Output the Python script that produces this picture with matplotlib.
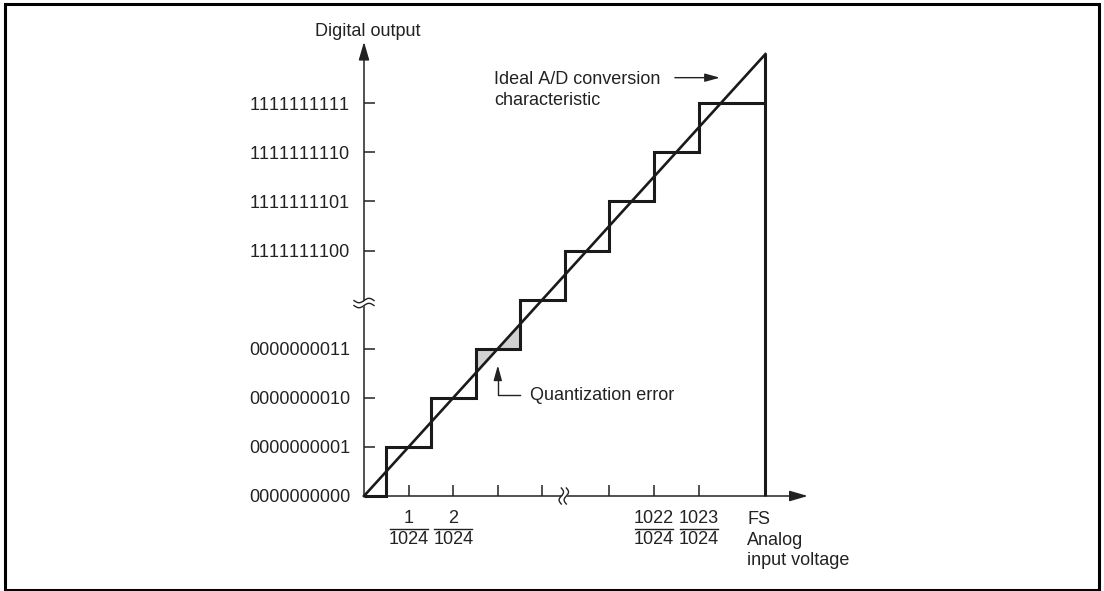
import matplotlib.pyplot as plt
from matplotlib.patches import Rectangle
import numpy as np

plt.rcParams['font.family'] = ['Liberation Sans', 'DejaVu Sans']
plt.rcParams['text.kerning_factor'] = 8  # Helvetica-like spacing of "11"

# staircase of the 10-bit converter (axis is broken, only the ends are drawn)
step_edges = [0, 0.5, 1.5, 2.5, 3.5, 4.5, 5.5, 6.5, 7.5, 9]
step_levels = [0, 1, 2, 3, 4, 5, 6, 7, 8]
full_scale = 9

y_ticks = [1, 2, 3, 5, 6, 7, 8]
y_labels = ['0000000001', '0000000010', '0000000011',
            '1111111100', '1111111101', '1111111110', '1111111111']
y_zero_label = '0000000000'

x_ticks = [1, 2, 3, 4, 5.5, 6.5, 7.5]
frac_pos = [1, 2, 6.5, 7.5]
frac_num = ['1', '2', '1022', '1023']
frac_den = ['1024', '1024', '1024', '1024']

# shaded quantization error around the 0000000011 step
err_x = [2.5, 3.0, 3.5]
err_level = 3

W, H = 1104, 591
fig = plt.figure(figsize=(W / 100, H / 100), dpi=100)
ax = fig.add_axes([0, 0, 1, 1])
ox, oy, ux, uy = 364, 496, 44.6, 49.1
ax.set_xlim(-ox / ux, (W - ox) / ux)
ax.set_ylim(-(H - oy) / uy, oy / uy)
px = 1 / ux  # one pixel in data units
py = 1 / uy

fs = 13
lw_thick = 2.2

# outer frame
fig.patches.append(Rectangle((5 / W, 1 - 590 / H), 1094 / W, 586 / H,
                             transform=fig.transFigure, fill=False,
                             lw=2.2, ec='black'))

for s in ['top', 'right']:
    ax.spines[s].set_visible(False)
for s in ['left', 'bottom']:
    ax.spines[s].set_position(('data', 0))
    ax.spines[s].set_visible(False)

ax.set_yticks([0] + y_ticks, [y_zero_label] + y_labels)
ax.set_xticks(x_ticks)
ax.tick_params(axis='y', direction='in', length=8, width=1.1, pad=10,
               labelsize=fs, colors='#222222')
ax.tick_params(axis='x', direction='in', length=8, width=1.1,
               labelbottom=False, colors='#222222')
ax.yaxis.get_major_ticks()[0].tick1line.set_visible(False)

# axes with arrow heads
arrow = dict(arrowstyle='-|>,head_length=1.1,head_width=0.32',
             mutation_scale=10, lw=1.1, color='#222222',
             shrinkA=0, shrinkB=0)
ax.annotate('', xy=(9.95, 0), xytext=(0, 0), arrowprops=arrow)
ax.annotate('', xy=(0, 9.25), xytext=(0, 0), arrowprops=arrow)

# ideal line, staircase, full-scale edge
ax.fill_between(err_x, err_x, err_level, color='#d2d2d2', lw=0, zorder=1)
ax.plot([0, full_scale], [0, full_scale], color='#1a1a1a', lw=1.9, zorder=3)
ax.stairs(step_levels, step_edges, baseline=None, color='#1a1a1a',
          lw=lw_thick, zorder=3)
ax.vlines(full_scale, 0, full_scale, color='#1a1a1a', lw=lw_thick, zorder=3)


def axis_break(xc, yc, vertical):
    t = np.linspace(-1, 1, 40)
    half, amp, gap = 10, 2.2, 2.5
    if vertical:
        y = yc + half * 0.8 * t * py
        a = xc - gap * px + amp * np.sin(np.pi * t) * px
        b = xc + gap * px + amp * np.sin(np.pi * t) * px
        ax.fill_betweenx(y, a, b, color='white', lw=0, zorder=4)
        ax.plot(a, y, color='#222222', lw=1.0, zorder=5)
        ax.plot(b, y, color='#222222', lw=1.0, zorder=5)
    else:
        x = xc + half * t * px
        a = yc - gap * py + amp * np.sin(np.pi * t) * py
        b = yc + gap * py + amp * np.sin(np.pi * t) * py
        ax.fill_between(x, a, b, color='white', lw=0, zorder=4)
        ax.plot(x, a, color='#222222', lw=1.0, zorder=5)
        ax.plot(x, b, color='#222222', lw=1.0, zorder=5)


axis_break(0, 3.93, vertical=False)
axis_break(4.48, 0, vertical=True)

# fraction labels under the x axis
for xp, n, d in zip(frac_pos, frac_num, frac_den):
    ax.text(xp, -0.45, n, ha='center', va='center', fontsize=fs, color='#222222')
    ax.text(xp, -0.88, d, ha='center', va='center', fontsize=fs, color='#222222')
    ax.plot([xp - 19 * px, xp + 19 * px], [-0.67, -0.67], color='#222222', lw=1.0)

ax.text(8.59, -0.9, 'FS\nAnalog\ninput voltage', ha='left', va='center',
        fontsize=fs, linespacing=1.27, color='#222222')
ax.text(0.09, 9.47, 'Digital output', ha='center', va='center',
        fontsize=fs, color='#222222')

ax.text(2.91, 8.27, 'Ideal A/D conversion\ncharacteristic', ha='left',
        va='center', fontsize=fs, linespacing=1.27, color='#222222')
ax.annotate('', xy=(7.98, 8.52), xytext=(6.97, 8.52),
            arrowprops=dict(arrowstyle='-|>,head_length=0.9,head_width=0.25',
                            mutation_scale=10, lw=1.0, color='#222222',
                            shrinkA=0, shrinkB=0))

ax.plot([3.5, 3.0, 3.0], [2.05, 2.05, 2.45], color='#222222', lw=1.0)
ax.annotate('', xy=(3.0, 2.66), xytext=(3.0, 2.4),
            arrowprops=dict(arrowstyle='-|>,head_length=0.9,head_width=0.25',
                            mutation_scale=10, lw=1.0, color='#222222',
                            shrinkA=0, shrinkB=0))
ax.text(3.72, 2.05, 'Quantization error', ha='left', va='center',
        fontsize=fs, color='#222222')

fig.savefig('out.png', dpi=100)
